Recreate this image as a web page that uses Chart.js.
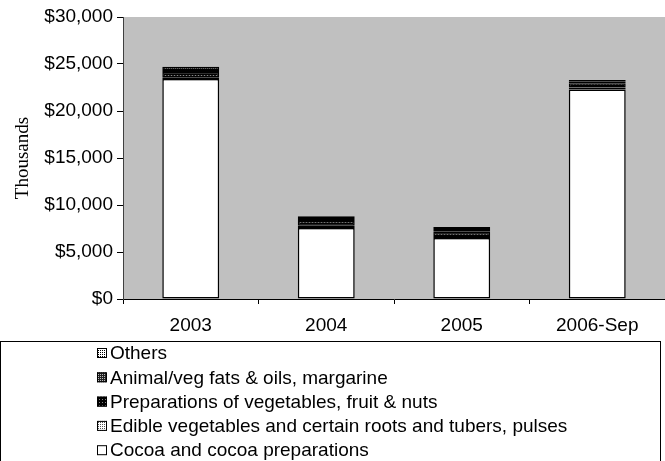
<!DOCTYPE html>
<html>
<head>
<meta charset="utf-8">
<script src="https://cdn.jsdelivr.net/npm/chart.js@4.4.0/dist/chart.umd.min.js"></script>
<style>
  html, body { margin: 0; padding: 0; background: #fff; }
  #wrap { width: 665px; height: 461px; }
</style>
</head>
<body>
<div id="wrap"><canvas id="myChart" width="665" height="461"></canvas></div>
<script>
const years = ["2003", "2004", "2005", "2006-Sep"];
const cocoa = [23400, 7550, 6500, 22300];
const edible = [200, 250, 200, 200];
const preparations = [550, 500, 450, 450];
const fats = [200, 200, 200, 150];
const others = [350, 300, 300, 200];
const seriesNames = [
  "Cocoa and cocoa preparations",
  "Edible vegetables and certain roots and tubers, pulses",
  "Preparations of vegetables, fruit & nuts",
  "Animal/veg fats & oils, margarine",
  "Others"
];
const yTicks = [0, 5000, 10000, 15000, 20000, 25000, 30000];

const FONT = "Arial, 'Liberation Sans', sans-serif";

// small fill patterns like the old spreadsheet hatches
function makePattern(bg, fg, step) {
  const c = document.createElement("canvas");
  c.width = step; c.height = step;
  const g = c.getContext("2d");
  g.fillStyle = bg;
  g.fillRect(0, 0, step, step);
  g.fillStyle = fg;
  g.fillRect(0, 0, 1, 1);
  return g.createPattern(c, "repeat");
}
const fills = [
  "#ffffff",
  makePattern("#ffffff", "#555555", 2),
  makePattern("#000000", "#888888", 3),
  makePattern("#222222", "#bbbbbb", 2),
  makePattern("#ffffff", "#000000", 2)
];
const seriesData = [cocoa, edible, preparations, fats, others];

const plotBg = {
  id: "plotBg",
  beforeDraw(chart) {
    const a = chart.chartArea, c = chart.ctx;
    c.save();
    c.fillStyle = "#c0c0c0";
    c.fillRect(a.left, a.top, a.right - a.left, a.bottom - a.top);
    c.restore();
  }
};

const boxLegend = {
  id: "boxLegend",
  afterDraw(chart) {
    const c = chart.ctx;
    c.save();
    c.strokeStyle = "#000";
    c.lineWidth = 1;
    c.strokeRect(0.5, 341.5, 660, 140);
    c.font = "19px " + FONT;
    c.textBaseline = "middle";
    const ds = chart.data.datasets.slice().reverse();
    ds.forEach((d, i) => {
      const y = 353 + i * 24.3;
      c.fillStyle = d.backgroundColor;
      c.fillRect(97, y - 5, 10, 10);
      c.strokeStyle = "#000";
      c.strokeRect(97.5, y - 4.5, 9, 9);
      c.fillStyle = "#000";
      c.fillText(d.label, 110, y + 1);
    });
    c.restore();
  }
};

new Chart(document.getElementById("myChart"), {
  type: "bar",
  data: {
    labels: years,
    datasets: seriesNames.map((name, i) => ({
      label: name,
      data: seriesData[i],
      backgroundColor: fills[i],
      borderColor: "#000",
      borderWidth: 1.5,
      borderSkipped: false,
      barPercentage: 0.42,
      categoryPercentage: 1
    }))
  },
  options: {
    responsive: false,
    animation: false,
    layout: { padding: { top: 17, bottom: 120, left: 0, right: 0 } },
    plugins: {
      legend: { display: false },
      tooltip: { enabled: false }
    },
    scales: {
      x: {
        stacked: true,
        grid: { display: true, drawOnChartArea: false, offset: true, tickLength: 5, color: "#000" },
        border: { color: "#000", width: 1 },
        ticks: { font: { family: FONT, size: 19 }, color: "#000", padding: 10 },
        afterFit(scale) { scale.height = 42; }
      },
      y: {
        stacked: true,
        min: 0,
        max: 30000,
        afterBuildTicks(scale) { scale.ticks = yTicks.map(v => ({ value: v })); },
        grid: { display: true, drawOnChartArea: false, tickLength: 6, color: "#000" },
        border: { color: "#404040", width: 1 },
        ticks: {
          font: { family: FONT, size: 19 },
          color: "#000",
          padding: 4,
          callback: v => "$" + Number(v).toLocaleString("en-US")
        },
        title: {
          display: true,
          text: "Thousands",
          font: { family: "'Times New Roman', 'Liberation Serif', serif", size: 19 },
          color: "#000",
          padding: { top: 12, bottom: 0 }
        },
        afterFit(scale) { scale.width = 123; }
      }
    }
  },
  plugins: [plotBg, boxLegend]
});
</script>
</body>
</html>
